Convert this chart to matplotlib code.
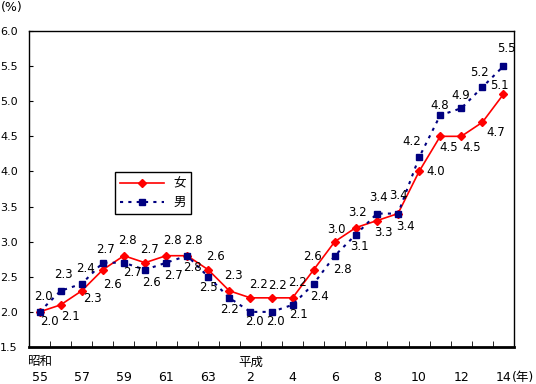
"""Unemployment rate by sex, Showa 55 - Heisei 14."""

import matplotlib
import matplotlib.pyplot as plt

matplotlib.use("Agg")

plt.rcParams["font.family"] = ["DejaVu Sans", "Noto Sans CJK JP"]

# Data
years = list(range(1980, 2003))
female = [2.0, 2.1, 2.3, 2.6, 2.8, 2.7, 2.8, 2.8, 2.6, 2.3, 2.2, 2.2,
          2.2, 2.6, 3.0, 3.2, 3.3, 3.4, 4.0, 4.5, 4.5, 4.7, 5.1]
male = [2.0, 2.3, 2.4, 2.7, 2.7, 2.6, 2.7, 2.8, 2.5, 2.2, 2.0, 2.0,
        2.1, 2.4, 2.8, 3.1, 3.4, 3.4, 4.2, 4.8, 4.9, 5.2, 5.5]
tick_labels = ["昭和\n55", "\n57", "\n59", "\n61", "\n63", "平成\n2",
               "\n4", "\n6", "\n8", "\n10", "\n12", "\n14"]

# Label offsets in pixels (dx, dy), dy positive = downwards
female_off = [(10, 10), (10, 12), (11, 8), (10, 15), (4, -15), (5, -13),
              (6, -15), (5, 12), (7, -13), (4, -15), (8, -13), (6, -12),
              (5, -15), (-1, -13), (2, -12), (2, -15), (6, 12), (7, 13),
              (17, 0), (8, 11), (10, 11), (13, 10), (-4, -9)]
male_off = [(4, -15), (3, -16), (4, -15), (3, -13), (9, 10), (7, 13),
            (7, 13), (6, -15), (0, 11), (0, 12), (4, 10), (4, 10),
            (6, 10), (6, 13), (8, 14), (4, 12), (2, -16), (0, -18),
            (-7, -16), (-1, -10), (-1, -13), (-3, -15), (3, -18)]

RED = "#FF0000"
NAVY = "#000080"

fig = plt.figure(figsize=(5.36, 3.84), dpi=100)
ax = fig.add_axes([29 / 536, 1 - 347 / 384, 485 / 536, 316 / 384])

x = list(range(len(years)))

ax.plot(x, female, color=RED, linewidth=1.2, marker="D", markersize=4.5,
        label="女", zorder=3)
ax.plot(x, male, color=NAVY, linewidth=1.5, linestyle=(0, (1.5, 2.5)),
        marker="s", markersize=5, label="男", zorder=4)

for xi, v, (dx, dy) in zip(x, female, female_off):
    ax.annotate(f"{v:.1f}", (xi, v), xytext=(dx, -dy),
                textcoords="offset pixels", ha="center", va="center",
                fontsize=8.5, zorder=5)
for xi, v, (dx, dy) in zip(x, male, male_off):
    ax.annotate(f"{v:.1f}", (xi, v), xytext=(dx, -dy),
                textcoords="offset pixels", ha="center", va="center",
                fontsize=8.5, zorder=5)

ax.set_xlim(-0.5, len(years) - 0.5)
ax.set_ylim(1.5, 6.0)

ax.set_yticks([1.5 + 0.5 * i for i in range(10)])
ax.yaxis.set_major_formatter(plt.FuncFormatter(lambda v, p: f"{v:.1f}"))
ax.tick_params(axis="y", direction="in", length=3, pad=8, labelsize=8)

ax.set_xticks(range(0, len(years), 2))
ax.set_xticklabels(tick_labels, linespacing=1.25)
ax.set_xticks([i - 0.5 for i in range(len(years) + 1)], minor=True)
ax.tick_params(axis="x", which="major", length=0, pad=6, labelsize=9)
ax.tick_params(axis="x", which="minor", direction="in", length=4)

for side in ["left", "top", "right"]:
    ax.spines[side].set_linewidth(1)
ax.spines["bottom"].set_linewidth(2)

fig.text(512 / 536, 1 - 377 / 384, "(年)", fontsize=9, va="center", ha="left")
fig.text(0.002, 1 - 7 / 384, "(%)", fontsize=9, va="center", ha="left")

leg = ax.legend(loc="upper left", bbox_to_anchor=(0.177, 0.554),
                fancybox=False, framealpha=1, edgecolor="black",
                handlelength=3.5, fontsize=9, borderaxespad=0)
leg.get_frame().set_linewidth(1)

fig.savefig("out.png", dpi=100)
plt.close(fig)
